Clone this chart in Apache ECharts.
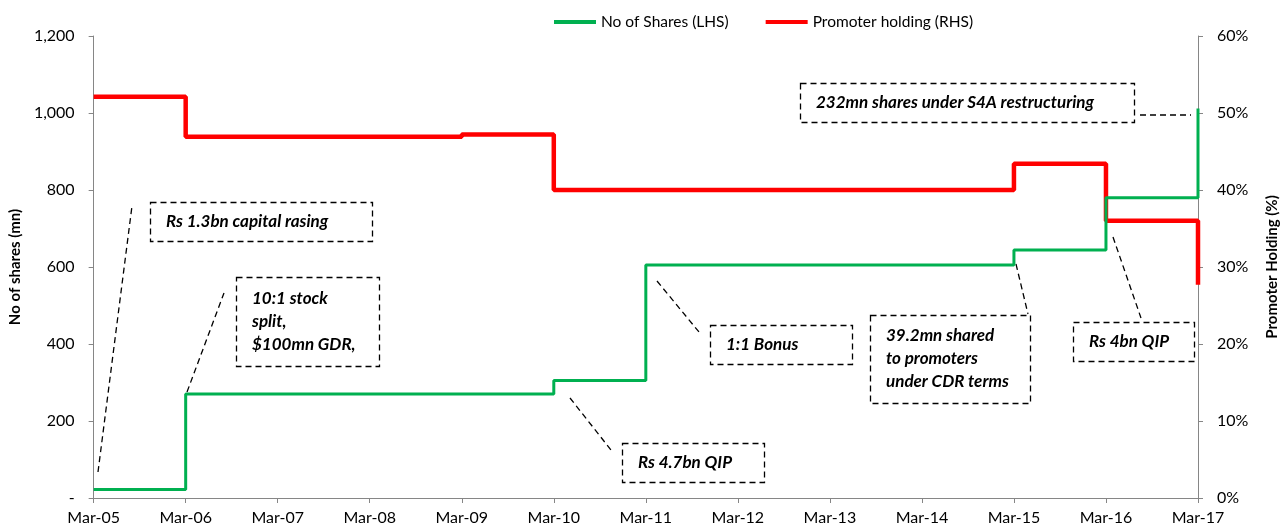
<!DOCTYPE html>
<html>
<head>
<meta charset="utf-8">
<style>
  html, body { margin: 0; padding: 0; background: #fff; }
  #chart { width: 1288px; height: 531px; }
</style>
<script src="https://cdn.jsdelivr.net/npm/echarts@6/dist/echarts.min.js"></script>
</head>
<body>
<div id="chart"></div>
<script>
// Fiscal year-ends on the x axis (index 0..12)
const periods = ['Mar-05','Mar-06','Mar-07','Mar-08','Mar-09','Mar-10','Mar-11',
                 'Mar-12','Mar-13','Mar-14','Mar-15','Mar-16','Mar-17'];

// Number of shares outstanding (mn), as [period index, value] change points
const shareIdx    = [0, 1, 5, 6, 10, 11, 12];
const shareValues = [22, 270, 305, 605, 644, 780, 1012];

// Promoter holding (%), as [period index, value] change points
const holdIdx    = [0, 1, 4, 5, 10, 11, 12];
const holdValues = [52.1, 46.9, 47.2, 40.0, 43.4, 36.0, 27.7];

// Axis ticks
const leftTicks  = [0, 200, 400, 600, 800, 1000, 1200];
const rightTicks = [0, 10, 20, 30, 40, 50, 60];

// Event call-outs: text lines, box [x, y, w, h], leader line [x1, y1, x2, y2]
const notes = [
  { lines: ['Rs 1.3bn capital rasing'], box: [150, 202, 222, 39], lead: [98, 472, 132, 206] },
  { lines: ['10:1 stock', 'split,', '$100mn GDR,'], box: [236, 277, 143, 89], lead: [187, 392, 224, 293] },
  { lines: ['Rs 4.7bn QIP'], box: [622, 443, 142, 39], lead: [570, 398, 611, 450] },
  { lines: ['1:1 Bonus'], box: [710, 325, 142, 39], lead: [657, 281, 699, 332] },
  { lines: ['39.2mn shared', 'to promoters', 'under CDR terms'], box: [870, 315, 160, 88], lead: [1016, 264, 1028, 314] },
  { lines: ['Rs 4bn QIP'], box: [1073, 322, 121, 39], lead: [1113, 237, 1141, 318] },
  { lines: ['232mn shares under S4A restructuring'], box: [800, 83, 334, 39], lead: [1140, 115, 1191, 115] }
];

const FONT = 'Lato, "Open Sans", sans-serif';
const AXIS_GREY = '#868686';
const DASH = [6, 4];

const zip = (xs, ys) => xs.map((x, i) => [x, ys[i]]);

const graphics = [];
notes.forEach(n => {
  const [bx, by, bw, bh] = n.box;
  graphics.push({
    type: 'rect', silent: true,
    shape: { x: bx + 0.5, y: by + 0.5, width: bw, height: bh },
    style: { fill: 'rgba(0,0,0,0)', stroke: '#000', lineWidth: 1.3, lineDash: DASH }
  });
  const lh = 23;
  const y0 = by + bh / 2 - (n.lines.length - 1) * lh / 2;
  n.lines.forEach((t, i) => {
    graphics.push({
      type: 'text', silent: true,
      x: bx + 16, y: y0 + i * lh,
      style: {
        text: t, fill: '#000',
        font: 'italic bold 17px ' + FONT,
        textVerticalAlign: 'middle', verticalAlign: 'middle'
      }
    });
  });
  const [x1, y1, x2, y2] = n.lead;
  graphics.push({
    type: 'line', silent: true,
    shape: { x1, y1, x2, y2 },
    style: { stroke: '#000', lineWidth: 1.3, lineDash: DASH }
  });
});

const chart = echarts.init(document.getElementById('chart'), null, { renderer: 'canvas' });

const axisTitle = { fontFamily: FONT, fontSize: 15, fontWeight: 'bold', color: '#000' };
const tickLabel = { fontSize: 16, color: '#000', fontFamily: FONT };

chart.setOption({
  animation: false,
  backgroundColor: '#fff',
  textStyle: { fontFamily: FONT },
  grid: { left: 92, right: 90, top: 36, bottom: 33, containLabel: false },
  legend: {
    left: 549, top: 9,
    itemWidth: 42, itemHeight: 4, itemGap: 37,
    icon: 'rect',
    textStyle: { fontFamily: FONT, fontSize: 15.5, color: '#000', padding: [0, 0, 0, 0] },
    data: ['No of Shares (LHS)', 'Promoter holding (RHS)']
  },
  xAxis: {
    type: 'value', min: 0, max: periods.length - 1, interval: 1,
    axisLine: { lineStyle: { color: AXIS_GREY, width: 1 } },
    axisTick: { show: true, length: 5, lineStyle: { color: AXIS_GREY } },
    splitLine: { show: false },
    axisLabel: Object.assign({ margin: 12, formatter: v => periods[v] || '' }, tickLabel)
  },
  yAxis: [
    {
      type: 'value', min: leftTicks[0], max: leftTicks[leftTicks.length - 1], interval: 200,
      name: 'No of shares (mn)', nameLocation: 'middle', nameRotate: 90, nameGap: 66,
      nameTextStyle: axisTitle,
      axisLine: { show: true, lineStyle: { color: AXIS_GREY, width: 1 } },
      axisTick: { show: true, length: 5, lineStyle: { color: AXIS_GREY } },
      splitLine: { show: false },
      axisLabel: Object.assign({
        margin: 19,
        formatter: v => v === 0 ? '-' : v.toLocaleString('en-US')
      }, tickLabel)
    },
    {
      type: 'value', min: rightTicks[0], max: rightTicks[rightTicks.length - 1], interval: 10,
      position: 'right',
      name: 'Promoter Holding (%)', nameLocation: 'middle', nameRotate: 90, nameGap: 67,
      nameTextStyle: axisTitle,
      axisLine: { show: true, lineStyle: { color: AXIS_GREY, width: 1 } },
      axisTick: { show: true, length: 5, lineStyle: { color: AXIS_GREY } },
      splitLine: { show: false },
      axisLabel: Object.assign({ margin: 19, formatter: '{value}%' }, tickLabel)
    }
  ],
  series: [
    {
      name: 'No of Shares (LHS)', type: 'line', step: 'end', yAxisIndex: 0,
      data: zip(shareIdx, shareValues),
      symbol: 'none', color: '#00B050',
      lineStyle: { color: '#00B050', width: 3 }, z: 3
    },
    {
      name: 'Promoter holding (RHS)', type: 'line', step: 'end', yAxisIndex: 1,
      data: zip(holdIdx, holdValues),
      symbol: 'none', color: '#FF0000',
      lineStyle: { color: '#FF0000', width: 4.5 }, z: 2
    }
  ],
  graphic: graphics
});
</script>
</body>
</html>
